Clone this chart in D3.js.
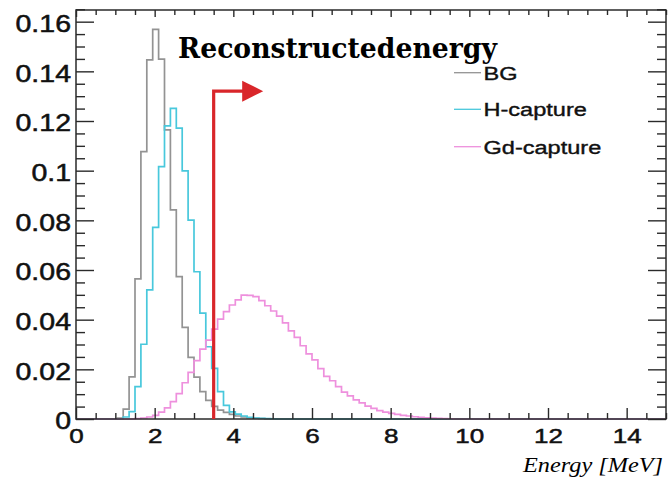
<!DOCTYPE html>
<html>
<head>
<meta charset="utf-8">
<script src="https://cdn.jsdelivr.net/npm/d3@7"></script>
<style>
  body { margin: 0; background: #fff; }
  svg { display: block; }
</style>
</head>
<body>
<div id="chartHolder"></div>
<script>
// histogram contents, 100 bins of 0.15 MeV from 0 to 15, leading zeros dropped
const binWidth = 0.15;
const nBins = 100;

const bgFirstBin = 7;
const bgValues = [0.0004, 0.004, 0.017, 0.0564, 0.1077, 0.1446, 0.1569, 0.1449, 0.1164, 0.0842,
  0.0573, 0.0369, 0.0248, 0.0169, 0.011, 0.0075, 0.0051, 0.0036, 0.0027, 0.0019,
  0.0012, 0.0008, 0.0005, 0.0003, 0.0002, 0.0001];

const hFirstBin = 8;
const hValues = [0.0008, 0.003, 0.013, 0.0301, 0.052, 0.0772, 0.1016, 0.118, 0.1251, 0.1171,
  0.0999, 0.0801, 0.0593, 0.0426, 0.0291, 0.0204, 0.011, 0.0055, 0.0029, 0.002,
  0.0012, 0.0007, 0.0004, 0.0003, 0.0002, 0.0001];

const gdFirstBin = 10;
const gdValues = [0.0002, 0.0004, 0.0008, 0.0015, 0.0028, 0.0045, 0.007, 0.0102, 0.0146, 0.0188,
  0.0235, 0.0281, 0.0318, 0.0362, 0.0402, 0.0432, 0.0459, 0.048, 0.0499, 0.0498,
  0.0493, 0.0477, 0.0456, 0.0435, 0.0414, 0.0387, 0.0355, 0.0329, 0.0295, 0.0262,
  0.0238, 0.0203, 0.0172, 0.0154, 0.013, 0.0108, 0.0093, 0.0077, 0.0065, 0.0052,
  0.0043, 0.0034, 0.0028, 0.0023, 0.0019, 0.0015, 0.0012, 0.0009, 0.0007, 0.0005,
  0.0004, 0.0003, 0.0002, 0.0001];

const seriesNames = ["BG", "H-capture", "Gd-capture"];
const seriesColors = ["#939393", "#48c8dc", "#ee90dd"];

const xTicks = [0, 2, 4, 6, 8, 10, 12, 14];
const xTickLabels = ["0", "2", "4", "6", "8", "10", "12", "14"];
const yTicks = [0, 0.02, 0.04, 0.06, 0.08, 0.1, 0.12, 0.14, 0.16];
const yTickLabels = ["0", "0.02", "0.04", "0.06", "0.08", "0.1", "0.12", "0.14", "0.16"];

// selection cut and arrow
const cutEnergy = 3.5;
const arrowLevel = 0.132;
const arrowEnd = 4.25;

const titleText = "Reconstructedenergy";
const xTitle = "Energy [MeV]";

const width = 669;
const height = 480;
const stretch = 1.24; // the source picture is stretched sideways

const svg = d3.select("#chartHolder")
  .append("svg")
  .attr("width", width)
  .attr("height", height);

svg.append("rect").attr("width", width).attr("height", height).attr("fill", "#fff");

const xScale = d3.scaleLinear().domain([0, 15]).range([76, 666]);
const yScale = d3.scaleLinear().domain([0, 0.1647]).range([419, 10]);

function fullHist(first, vals) {
  const h = new Array(nBins).fill(0);
  vals.forEach((v, i) => { h[first + i] = v; });
  const pts = h.map((v, i) => [i * binWidth, v]);
  pts.push([nBins * binWidth, h[nBins - 1]]);
  return pts;
}

const hists = [
  fullHist(bgFirstBin, bgValues),
  fullHist(hFirstBin, hValues),
  fullHist(gdFirstBin, gdValues)
];

const line = d3.line()
  .x(d => xScale(d[0]))
  .y(d => yScale(d[1]))
  .curve(d3.curveStepAfter);

svg.append("g")
  .selectAll("path")
  .data(hists)
  .enter()
  .append("path")
  .attr("d", line)
  .attr("fill", "none")
  .attr("stroke", (d, i) => seriesColors[i])
  .attr("stroke-width", 1.7);

// axes, ticks pointing inside like ROOT
const axisColor = "#2a2a2a";
const minorX = d3.range(0, 15.001, 0.5).filter(v => v % 2 !== 0);
const minorY = d3.range(0, 0.1651, 0.005).filter(v => Math.abs(v / 0.02 - Math.round(v / 0.02)) > 1e-6);

function styleAxis(g) {
  g.select(".domain").remove();
  g.selectAll("line").attr("stroke", axisColor).attr("stroke-width", 1.4);
  g.selectAll("text")
    .attr("fill", "#111")
    .attr("stroke", "#111")
    .attr("stroke-width", 0.5)
    .style("font-family", "'Liberation Sans', Arial, sans-serif");
}

// bottom
svg.append("g")
  .attr("transform", "translate(0,419)")
  .call(d3.axisBottom(xScale).tickValues(minorX).tickSize(-6).tickFormat(""))
  .call(styleAxis);
const xAxisG = svg.append("g")
  .attr("id", "x-axis")
  .attr("transform", "translate(0,419)")
  .call(d3.axisBottom(xScale).tickValues(xTicks).tickSize(-11).tickPadding(9)
    .tickFormat((d, i) => xTickLabels[i]))
  .call(styleAxis);
xAxisG.selectAll("text")
  .style("font-size", "21px")
  .attr("transform", `scale(${stretch},1)`);

// top
svg.append("g")
  .attr("transform", "translate(0,10)")
  .call(d3.axisTop(xScale).tickValues(minorX).tickSize(-5).tickFormat(""))
  .call(styleAxis);
svg.append("g")
  .attr("transform", "translate(0,10)")
  .call(d3.axisTop(xScale).tickValues(xTicks).tickSize(-7).tickFormat(""))
  .call(styleAxis);

// left
svg.append("g")
  .attr("transform", "translate(76,0)")
  .call(d3.axisLeft(yScale).tickValues(minorY).tickSize(-9).tickFormat(""))
  .call(styleAxis);
const yAxisG = svg.append("g")
  .attr("id", "y-axis")
  .attr("transform", "translate(76,0)")
  .call(d3.axisLeft(yScale).tickValues(yTicks).tickSize(-18).tickPadding(5)
    .tickFormat((d, i) => yTickLabels[i]))
  .call(styleAxis);
yAxisG.selectAll("text")
  .style("font-size", "23px")
  .attr("x", -5 / stretch)
  .attr("dy", "0.42em")
  .attr("transform", `scale(${stretch},1)`);

// right
svg.append("g")
  .attr("transform", "translate(666,0)")
  .call(d3.axisRight(yScale).tickValues(minorY).tickSize(-9).tickFormat(""))
  .call(styleAxis);
svg.append("g")
  .attr("transform", "translate(666,0)")
  .call(d3.axisRight(yScale).tickValues(yTicks).tickSize(-18).tickFormat(""))
  .call(styleAxis);

// frame
svg.append("rect")
  .attr("x", xScale(0))
  .attr("y", yScale.range()[1])
  .attr("width", xScale(15) - xScale(0))
  .attr("height", yScale(0) - yScale.range()[1])
  .attr("fill", "none")
  .attr("stroke", axisColor)
  .attr("stroke-width", 1.5);

// red cut arrow
const red = "#d9262a";
svg.append("path")
  .attr("d", `M${xScale(cutEnergy)},${yScale(0)} V${yScale(arrowLevel)} H${xScale(arrowEnd)}`)
  .attr("fill", "none")
  .attr("stroke", red)
  .attr("stroke-width", 3.2);
svg.append("path")
  .attr("d", `M${xScale(arrowEnd) - 1},${yScale(arrowLevel) - 10.5} L${xScale(arrowEnd) + 20},${yScale(arrowLevel)} L${xScale(arrowEnd) - 1},${yScale(arrowLevel) + 10.5} Z`)
  .attr("fill", red);

// title
svg.append("text")
  .attr("x", 178)
  .attr("y", 58)
  .attr("textLength", 319)
  .attr("lengthAdjust", "spacingAndGlyphs")
  .style("font-family", "'DejaVu Serif', serif")
  .style("font-weight", "bold")
  .style("font-size", "28px")
  .attr("fill", "#000")
  .text(titleText);

// legend
const legend = svg.append("g");
const legendY = [72.7, 109.3, 146.7];
seriesNames.forEach((name, i) => {
  legend.append("line")
    .attr("x1", 454).attr("x2", 481)
    .attr("y1", legendY[i]).attr("y2", legendY[i])
    .attr("stroke", seriesColors[i])
    .attr("stroke-width", 1.3);
  legend.append("text")
    .attr("transform", `translate(483.5,${legendY[i] + 7}) scale(${stretch},1)`)
    .style("font-family", "'Liberation Sans', Arial, sans-serif")
    .style("font-size", "19px")
    .attr("fill", "#111")
    .attr("stroke", "#111")
    .attr("stroke-width", 0.4)
    .text(name);
});

// x title, kept inside the picture
svg.append("text")
  .attr("x", 523)
  .attr("y", 472)
  .attr("textLength", 140)
  .attr("lengthAdjust", "spacingAndGlyphs")
  .style("font-family", "'Liberation Serif', serif")
  .style("font-style", "italic")
  .style("font-size", "22px")
  .attr("fill", "#000")
  .text(xTitle);
</script>
</body>
</html>
